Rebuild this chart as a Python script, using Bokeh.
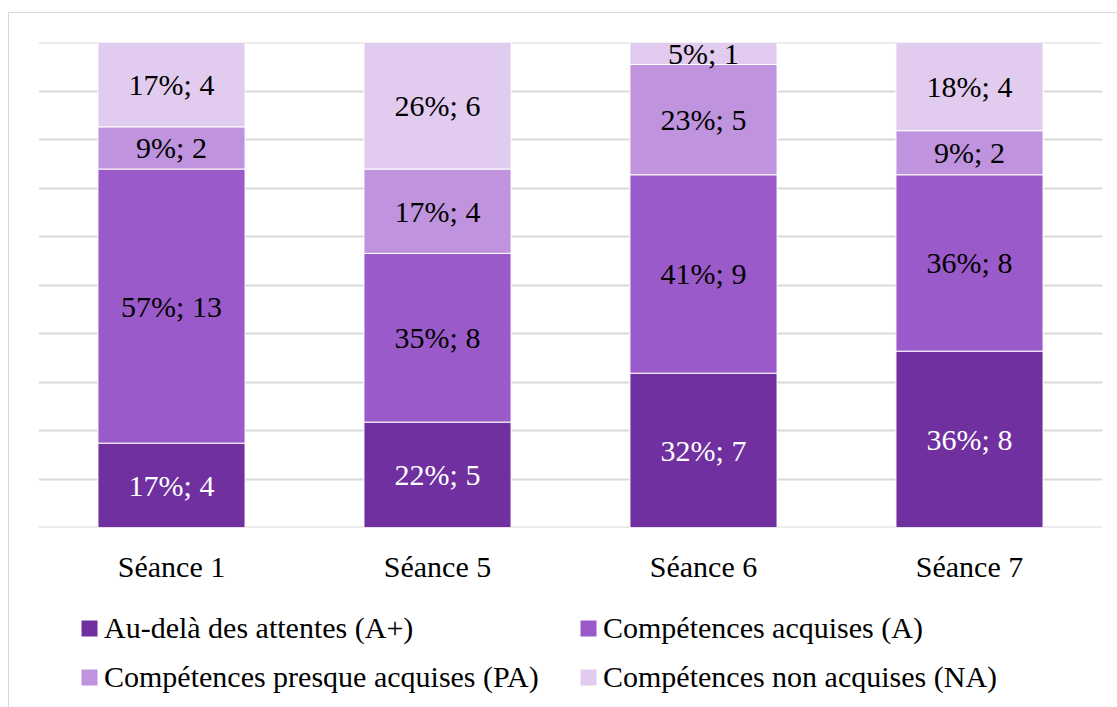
from bokeh.plotting import figure
from bokeh.layouts import column
from bokeh.models import (ColumnDataSource, FactorRange, Legend, LegendItem,
                          SingleIntervalTicker, Span)
from bokeh.core.properties import value
from bokeh.embed import file_html
from bokeh.resources import INLINE

sessions = ["Séance 1", "Séance 5", "Séance 6", "Séance 7"]
series = ["Au-delà des attentes (A+)", "Compétences acquises (A)",
          "Compétences presque acquises (PA)", "Compétences non acquises (NA)"]
counts_aplus = [4, 5, 7, 8]
counts_a = [13, 8, 9, 8]
counts_pa = [2, 4, 5, 2]
counts_na = [4, 6, 1, 4]
pct_aplus = [17, 22, 32, 36]
pct_a = [57, 35, 41, 36]
pct_pa = [9, 17, 23, 9]
pct_na = [17, 26, 5, 18]
colors = ["#7030a0", "#9b5ac9", "#bf93dd", "#e1cbee"]
label_colors = ["white", "black", "black", "black"]

FONT = "Liberation Serif"
FS = "30px"

counts = [counts_aplus, counts_a, counts_pa, counts_na]
pcts = [pct_aplus, pct_a, pct_pa, pct_na]
totals = [sum(c[i] for c in counts) for i in range(len(sessions))]
keys = ["aplus", "a", "pa", "na"]
data = {"x": sessions}
for k, c in zip(keys, counts):
    data[k] = [c[i] / totals[i] for i in range(len(sessions))]
src = ColumnDataSource(data)

p = figure(x_range=FactorRange(*sessions, range_padding=0), y_range=(0, 1),
           width=1108, height=587, output_backend="svg", toolbar_location=None,
           min_border_left=29, min_border_right=15, min_border_top=29, min_border_bottom=73)
p.outline_line_color = None

renderers = p.vbar_stack(keys, x="x", width=0.553, source=src, color=colors,
                         line_color="white", line_width=1)

# data labels
lx, ly, lt, lc = [], [], [], []
for i, s in enumerate(sessions):
    base = 0.0
    for j in range(4):
        h = data[keys[j]][i]
        lx.append(s)
        ly.append(base + h / 2)
        lt.append(f"{pcts[j][i]}%; {counts[j][i]}")
        lc.append(label_colors[j])
        base += h
lsrc = ColumnDataSource(dict(x=lx, y=ly, t=lt, c=lc))
p.text(x="x", y="y", text="t", source=lsrc, text_color="c", text_align="center",
       text_baseline="middle", text_font=value(FONT), text_font_size=FS)

p.yaxis.visible = False
p.ygrid.ticker = SingleIntervalTicker(interval=0.1)
p.ygrid.grid_line_color = "#d9d9d9"
p.ygrid.grid_line_width = 2
p.ygrid.level = "underlay"
for yv in (0, 1):
    p.add_layout(Span(location=yv, dimension="width", line_color="#d9d9d9",
                      line_width=2, level="underlay"))
p.xgrid.grid_line_color = None
p.xaxis.axis_line_color = None
p.xaxis.major_tick_line_color = None
p.xaxis.minor_tick_line_color = None
p.xaxis.major_label_text_font = FONT
p.xaxis.major_label_text_font_size = FS
p.xaxis.major_label_text_color = "black"
p.xaxis.major_label_standoff = 16

# legend figure (same stacked bars, scrolled out of view; only the legend shows)
lg = figure(width=1108, height=107, output_backend="svg", toolbar_location=None,
            x_range=FactorRange(*sessions, range_padding=0), y_range=(2, 3),
            min_border_left=0, min_border_right=0, min_border_top=0, min_border_bottom=0)
lg.axis.visible = False
lg.grid.grid_line_color = None
lg.outline_line_color = None
lrend = lg.vbar_stack(keys, x="x", width=0.553, source=src, color=colors,
                      line_color=None)
legend = Legend(items=[LegendItem(label=series[j], renderers=[lrend[j]]) for j in range(4)],
                location=(41, 10), ncols=2, orientation="horizontal",
                label_text_font=FONT, label_text_font_size=FS, label_text_color="black",
                glyph_width=20, glyph_height=20, label_standoff=5, spacing=9,
                label_width=465, label_height=40,
                padding=0, margin=0, border_line_color=None, background_fill_alpha=0)
lg.add_layout(legend, "center")

layout = column(p, lg, spacing=0,
                styles={"margin-left": "8px", "margin-top": "12px",
                        "border-left": "1px solid #d9d9d9", "border-top": "1px solid #d9d9d9"})

open("out.html", "w").write(file_html(layout, INLINE))
